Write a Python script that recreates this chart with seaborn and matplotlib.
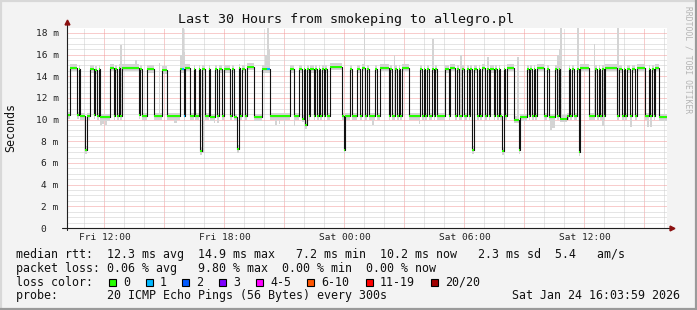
import numpy as np
import matplotlib
matplotlib.use("Agg")
import matplotlib.pyplot as plt
from matplotlib.patches import Rectangle
from matplotlib.lines import Line2D
import seaborn as sns

# ---------------- data ----------------
STEP_H = 5 / 60            # 300 s sampling
START_H = 10.13            # hours since Fri 00:00 (left edge of graph)
N_HOURS = 30

# median rtt (ms) as (value, number of 5-min samples), 5-hour blocks
median_runs_a = [(10.4, 2), (14.8, 4), (10.4, 1), (14.7, 1), (10.3, 3), (7.2, 1), (10.3, 2),
                 (14.7, 2), (10.4, 1), (14.6, 1), (10.3, 1), (14.7, 1), (10.2, 6), (14.8, 2),
                 (10.3, 1), (14.7, 1), (10.3, 1), (14.8, 1), (10.3, 1), (14.8, 10), (10.4, 1),
                 (14.7, 1), (10.3, 3), (14.7, 4), (10.3, 5), (14.6, 3)]
median_runs_b = [(10.3, 8), (14.7, 2), (10.3, 1), (14.8, 3), (10.3, 2), (14.7, 1), (10.3, 2),
                 (14.7, 1), (7.1, 1), (14.7, 2), (10.3, 2), (14.7, 1), (10.2, 3), (14.7, 1),
                 (10.3, 1), (14.7, 2), (10.3, 1), (14.7, 4), (10.3, 1), (14.7, 1), (10.2, 2),
                 (7.3, 1), (14.8, 1), (10.3, 1), (14.7, 2), (10.3, 1), (14.9, 4), (10.2, 5),
                 (14.7, 3)]
median_runs_c = [(14.7, 2), (10.3, 12), (14.7, 2), (10.3, 3), (14.7, 2), (10.1, 1), (14.7, 1),
                 (9.5, 1), (14.7, 1), (10.3, 1), (14.7, 2), (10.3, 1), (14.7, 1), (10.3, 1),
                 (14.7, 1), (10.3, 1), (14.7, 1), (10.3, 1), (14.7, 1), (10.3, 2), (14.9, 7),
                 (10.3, 1), (7.2, 1), (10.3, 3), (14.7, 1), (10.3, 3), (14.7, 2), (10.3, 1),
                 (14.8, 2), (10.3, 1)]
median_runs_d = [(14.7, 1), (10.3, 4), (14.7, 1), (10.3, 2), (14.8, 5), (10.3, 1), (14.7, 1),
                 (10.3, 2), (14.7, 1), (10.3, 1), (14.7, 1), (10.3, 1), (14.8, 4), (10.3, 7),
                 (14.7, 1), (10.3, 1), (14.7, 1), (10.3, 1), (14.7, 1), (10.3, 2), (14.7, 1),
                 (10.3, 1), (14.7, 1), (10.3, 5), (14.7, 2), (10.3, 1), (14.8, 3), (10.3, 1),
                 (14.7, 1), (10.3, 2), (14.7, 1), (10.3, 2)]
median_runs_e = [(14.7, 1), (10.3, 1), (14.7, 1), (7.2, 1), (14.7, 2), (10.3, 1), (14.7, 1),
                 (10.3, 1), (14.8, 2), (10.3, 1), (14.7, 1), (10.3, 1), (14.7, 2), (10.3, 1),
                 (14.7, 1), (10.3, 1), (14.7, 1), (10.3, 1), (7.1, 1), (14.7, 1), (10.3, 1),
                 (14.8, 4), (10.0, 3), (7.2, 1), (10.2, 4), (14.7, 1), (10.3, 1), (14.7, 1),
                 (10.3, 1), (14.7, 1), (10.3, 1), (14.8, 4), (10.3, 2), (14.7, 1), (10.2, 4),
                 (14.7, 1), (10.3, 1), (14.7, 1), (10.1, 4)]
median_runs_f = [(10.3, 1), (14.7, 1), (10.3, 1), (14.7, 1), (10.3, 2), (14.7, 1), (7.0, 1),
                 (14.8, 5), (10.3, 4), (14.7, 1), (10.3, 1), (14.7, 1), (10.3, 1), (14.7, 1),
                 (10.3, 1), (14.8, 7), (10.3, 1), (14.7, 2), (10.3, 1), (14.7, 1), (10.3, 1),
                 (14.7, 2), (10.3, 1), (14.7, 2), (10.3, 1), (14.8, 5), (10.3, 2), (14.7, 1),
                 (10.3, 1), (14.7, 1), (10.3, 1), (14.8, 2), (10.2, 5)]

# samples with 1/20 packet loss
loss1_samples = [69, 70, 120, 121]

# smoke (ping spread) extremes: (sample, top ms) and (sample, bottom ms)
smoke_tops = [(32, 16.9), (41, 15.5), (55, 15.2), (68, 16.0), (69, 18.5), (70, 16.2),
              (119, 16.0), (120, 18.5), (121, 16.5), (178, 18.5), (196, 16.0), (219, 17.4),
              (236, 16.0), (252, 15.8), (270, 15.8), (294, 16.0), (295, 16.5), (296, 18.5),
              (306, 18.5), (316, 17.0), (330, 18.5), (334, 16.0)]
smoke_bottoms = [(20, 9.5), (21, 9.6), (23, 9.5), (64, 9.7), (65, 9.7), (88, 9.7), (90, 9.7),
                 (125, 9.5), (127, 9.6), (130, 9.5), (136, 9.4), (183, 9.5), (211, 9.6),
                 (290, 9.0), (291, 9.2), (292, 9.2), (321, 9.4), (338, 9.3), (348, 9.3),
                 (350, 9.3), (11, 6.8), (81, 6.9), (102, 7.0), (166, 6.9), (243, 7.0),
                 (261, 6.8), (271, 7.0), (307, 6.7)]

x_tick_hours = [12, 18, 24, 30, 36]
x_tick_labels = ["Fri 12:00", "Fri 18:00", "Sat 00:00", "Sat 06:00", "Sat 12:00"]
y_ticks_ms = [0, 2, 4, 6, 8, 10, 12, 14, 16, 18]
y_tick_labels = ["0  ", "2 m", "4 m", "6 m", "8 m", "10 m", "12 m", "14 m", "16 m", "18 m"]

legend_rtt = "median rtt:  12.3 ms avg  14.9 ms max   7.2 ms min  10.2 ms now   2.3 ms sd  5.4   am/s"
legend_loss = "packet loss: 0.06 % avg   9.80 % max  0.00 % min  0.00 % now"
legend_probe = "probe:       20 ICMP Echo Pings (56 Bytes) every 300s"
legend_date = "Sat Jan 24 16:03:59 2026"
loss_labels = ["0", "1", "2", "3", "4-5", "6-10", "11-19", "20/20"]
loss_colors = ["#26ff00", "#00b8ff", "#0059ff", "#7e00ff", "#ff00ff", "#ff5500", "#ff0000", "#a10000"]

# ---------------- build series ----------------
runs = median_runs_a + median_runs_b + median_runs_c + median_runs_d + median_runs_e + median_runs_f
median = np.concatenate([np.repeat(v, n) for v, n in runs])
n = len(median)
t0 = START_H + np.arange(n) * STEP_H
lo = median - 0.35
hi = median + 0.35
for i, v in smoke_tops:
    hi[i] = max(hi[i], v)
for i, v in smoke_bottoms:
    lo[i] = min(lo[i], v)
mark_colors = [loss_colors[1] if i in loss1_samples else loss_colors[0] for i in range(n)]

# ---------------- figure ----------------
W, H = 697, 310
sns.set_style("white")
plt.rcParams["font.family"] = ["DejaVu Sans Mono"]
fig = plt.figure(figsize=(W / 100, H / 100), dpi=100, facecolor="#f3f3f3")
ax = fig.add_axes([67 / W, 82 / H, 600 / W, 200 / H])
ax.set_facecolor("white")

ax.set_xlim(START_H, START_H + N_HOURS)
ax.set_ylim(0, 18.46)

# grid
major_x = np.arange(12, START_H + N_HOURS, 3)
ax.set_xticks(major_x)
ax.set_xticks(np.arange(11, START_H + N_HOURS, 1), minor=True)
ax.set_yticks(y_ticks_ms)
ax.set_yticks(np.arange(0, 18.5, 0.5), minor=True)
ax.grid(which="minor", color="#cccccc", linestyle=(0, (1, 1)), linewidth=0.72)
ax.grid(which="major", color="#f29a9a", linestyle=(0, (1, 1)), linewidth=0.72)
ax.set_axisbelow(True)

# smoke
ax.bar(t0, hi - lo, bottom=lo, width=STEP_H, align="edge", color="#d4d4d4", linewidth=0, zorder=2)

# median line (step)
xs = np.append(t0, t0[-1] + STEP_H)
ys = np.append(median, median[-1])
sns.lineplot(x=xs, y=ys, ax=ax, drawstyle="steps-post", color="#111111", linewidth=0.8,
             estimator=None, sort=False, zorder=3)
# loss-coloured median marks
ax.hlines(median, t0, t0 + STEP_H, colors=mark_colors, linewidth=1.45, zorder=4)

# ticks
xlabels = [x_tick_labels[x_tick_hours.index(int(h))] if int(h) in x_tick_hours else "" for h in major_x]
ax.set_xticklabels(xlabels)
ax.set_yticklabels(y_tick_labels)
ax.tick_params(axis="x", which="major", direction="inout", length=4, width=0.7, pad=1.5,
               labelsize=6.8, colors="#222222")
ax.tick_params(axis="x", which="minor", direction="inout", length=3, width=0.7, colors="#444444")
ax.tick_params(axis="y", which="major", direction="out", length=2.5, width=0.7, pad=3.5,
               labelsize=6.8, colors="#222222")
ax.tick_params(axis="y", which="minor", length=0)
for s in ax.spines.values():
    s.set_visible(False)

# axes lines with arrows
ax.plot([-0.008, 1.006], [0, 0], transform=ax.transAxes, color="#202020", lw=0.8, clip_on=False, zorder=5)
ax.plot([0, 0], [-0.01, 1.02], transform=ax.transAxes, color="#202020", lw=0.8, clip_on=False, zorder=5)
ax.plot([1.008], [0], transform=ax.transAxes, marker=">", ms=3.5, color="#8b1010", clip_on=False, zorder=6)
ax.plot([0], [1.03], transform=ax.transAxes, marker="^", ms=3.5, color="#8b1010", clip_on=False, zorder=6)


def fx(x):
    return x / W


def fy(y):
    return 1 - y / H


# title, axis label, watermark
fig.text(fx(346.5), fy(19.3), "Last 30 Hours from smokeping to allegro.pl", ha="center", va="center",
         fontsize=9.6, color="#111111")
fig.text(fx(11), fy(127), "Seconds", rotation=90, ha="center", va="center", fontsize=8.4, color="#111111")
fig.text(fx(688), fy(60), "RRDTOOL / TOBI OETIKER", rotation=270, ha="center", va="center",
         fontsize=5.8, color="#b4b4b4")

# legend
LFS = 8.4
row_y = [254.3, 268.3, 282.3, 295.7]
fig.text(fx(16), fy(row_y[0]), legend_rtt, ha="left", va="center", fontsize=LFS, color="#111111")
fig.text(fx(16), fy(row_y[1]), legend_loss, ha="left", va="center", fontsize=LFS, color="#111111")
fig.text(fx(16), fy(row_y[3]), legend_probe, ha="left", va="center", fontsize=LFS, color="#111111")
fig.text(fx(680), fy(row_y[3]), legend_date, ha="right", va="center", fontsize=LFS, color="#111111")
fig.text(fx(16), fy(row_y[2]), "loss color:", ha="left", va="center", fontsize=LFS, color="#111111")
box_x = [109, 146, 182, 219, 256, 307, 366, 431]
for bx, lab, col in zip(box_x, loss_labels, loss_colors):
    fig.patches.append(Rectangle((fx(bx), fy(row_y[2] + 3.5)), 7 / W, 7 / H, transform=fig.transFigure,
                                 facecolor=col, edgecolor="black", linewidth=0.8, figure=fig))
    fig.text(fx(bx + 14), fy(row_y[2]), lab, ha="left", va="center", fontsize=LFS, color="#111111")

# frame
for xa, ya, c in (([0.5, 0.5], [0, H], "#d8d8d8"), ([0, W], [H - 0.5, H - 0.5], "#d8d8d8"),
                  ([W - 1, W - 1], [0, H], "#9a9a9a"), ([0, W], [1, 1], "#9a9a9a")):
    fig.add_artist(Line2D([xi / W for xi in xa], [yi / H for yi in ya], transform=fig.transFigure,
                          color=c, linewidth=1.6))

fig.savefig("out.png", dpi=100, facecolor=fig.get_facecolor())
